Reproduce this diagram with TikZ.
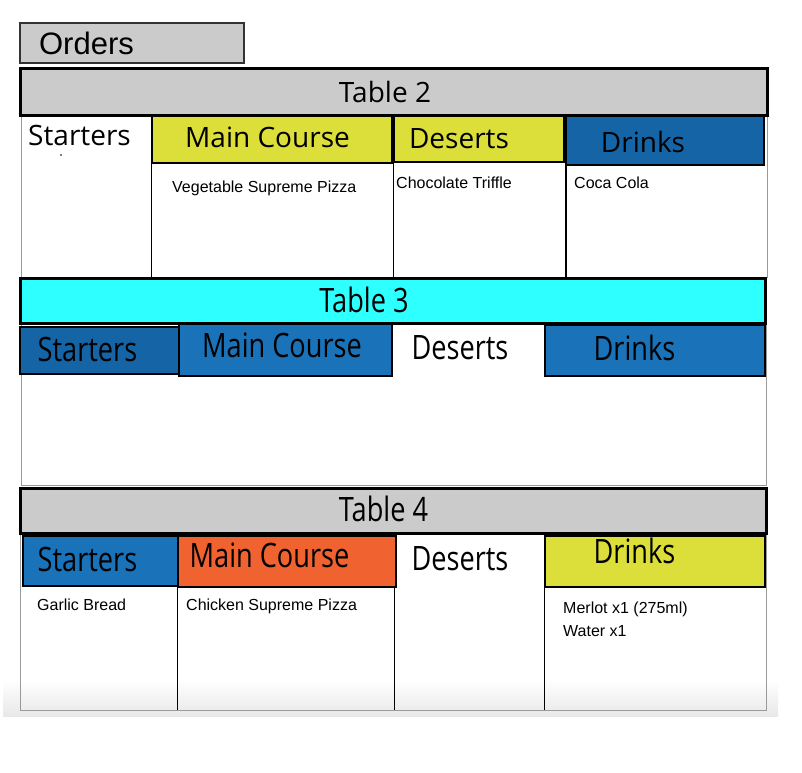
\documentclass[tikz,border=0pt]{standalone}
\usepackage{fontspec}
\setmainfont{Liberation Sans}
\newfontfamily\hdfont{Open Sans}
\usepackage{graphicx}
\definecolor{hdgray}{HTML}{CBCBCB}
\definecolor{ylw}{HTML}{DCDE3A}
\definecolor{bluedk}{HTML}{1565A6}
\definecolor{bluemd}{HTML}{1A72B9}
\definecolor{cyanhd}{HTML}{2EFFFF}
\definecolor{orng}{HTML}{F0622F}
\definecolor{bodyline}{HTML}{9A9A9A}
\tikzset{
  tablehdr/.style={draw=black, line width=3pt},
  colhdr/.style={draw=black, line width=1.8pt},
  bodybox/.style={draw=bodyline, line width=1pt},
  divider/.style={draw=black, line width=1.8pt},
  hlabel/.style={anchor=base, inner sep=0pt, font=\hdfont\fontsize{28}{30}\selectfont},
  item/.style={anchor=base west, inner sep=0pt, font=\fontsize{16}{18}\selectfont},
}
\newcommand{\tallt}[1]{\scalebox{0.97}[1.2]{#1}}
\begin{document}
\begin{tikzpicture}[x=1pt,y=-1pt]
\useasboundingbox (0,0) rectangle (802,772);
% bottom shading
\shade[top color=white, bottom color=black!9] (3,680) rectangle (778,716);
% Orders
\draw[fill=hdgray, draw=black!80, line width=2pt] (20,23) rectangle (244,63);
\node[anchor=base, inner sep=0pt, font=\fontsize{31}{33}\selectfont] (orders) at (86.5,54) {Orders};

% ---------- Table 2 ----------
\draw[bodybox] (21,115) rectangle (767,277);
\draw[tablehdr, fill=hdgray] (20,68) rectangle (767,115);
\node[hlabel] (t2) at (385,102) {Table 2};
\node[hlabel] (t2s) at (79.5,145) {Starters};
\fill (61,155) circle (0.9);
\draw[divider] (151.5,116) -- (151.5,277);
\draw[colhdr, fill=ylw] (152,116) rectangle (392,163);
\node[hlabel] (t2m) at (267.5,147) {Main Course};
\draw[divider] (393.5,162) -- (393.5,277);
\draw[colhdr, fill=ylw] (394,116) rectangle (564,162);
\node[hlabel] (t2d) at (459,148) {Deserts};
\draw[divider] (566,165) -- (566,277);
\draw[colhdr, fill=bluedk] (566,116) rectangle (764,165);
\node[hlabel] (t2k) at (643,152) {Drinks};
\node[item] (veg) at (172,192) {Vegetable Supreme Pizza};
\node[item] (choc) at (396,188) {Chocolate Triffle};
\node[item] (coca) at (574,188) {Coca Cola};

% ---------- Table 3 ----------
\draw[bodybox] (21,323) rectangle (766,485);
\draw[tablehdr, fill=cyanhd] (20,278) rectangle (765,323);
\node[hlabel] (t3) at (364,312) {\tallt{Table 3}};
\draw[colhdr, fill=bluedk] (20,327) rectangle (179,374);
\node[hlabel] (t3s) at (87.5,361) {\tallt{Starters}};
\draw[colhdr, fill=bluemd] (179,324) rectangle (392,376);
\node[hlabel] (t3m) at (282,357) {\tallt{Main Course}};
\node[hlabel] (t3d) at (460,359) {\tallt{Deserts}};
\draw[colhdr, fill=bluemd] (545,325) rectangle (765,376);
\node[hlabel] (t3k) at (634.5,360) {\tallt{Drinks}};

% ---------- Table 4 ----------
\draw[bodybox] (20,533) rectangle (766,710);
\draw[tablehdr, fill=hdgray] (20,488) rectangle (766,533);
\node[hlabel] (t4) at (383.5,521) {\tallt{Table 4}};
\draw[divider] (177.5,586) -- (177.5,710);
\draw[divider] (394.5,587) -- (394.5,710);
\draw[divider] (544.5,587) -- (544.5,710);
\draw[colhdr, fill=bluemd] (23,536) rectangle (178,586);
\node[hlabel] (t4s) at (87.5,571) {\tallt{Starters}};
\draw[colhdr, fill=orng] (178,536) rectangle (396,587);
\node[hlabel] (t4m) at (269.5,567) {\tallt{Main Course}};
\node[hlabel] (t4d) at (460,570) {\tallt{Deserts}};
\draw[colhdr, fill=ylw] (545,536) rectangle (765,587);
\node[hlabel] (t4k) at (634.5,563) {\tallt{Drinks}};
\node[item] (garlic) at (37,610) {Garlic Bread};
\node[item] (chick) at (186,610) {Chicken Supreme Pizza};
\node[item] (merlot) at (563,613) {Merlot x1 (275ml)};
\node[item] (water) at (563,636) {Water x1};
\end{tikzpicture}
\end{document}
